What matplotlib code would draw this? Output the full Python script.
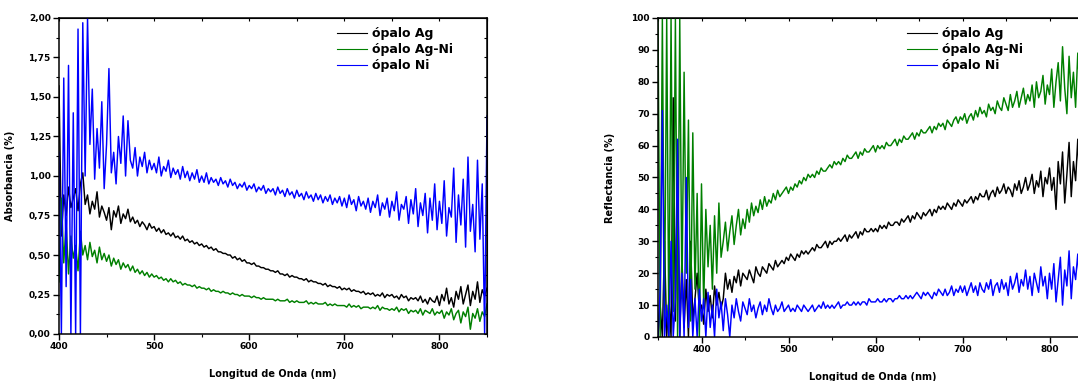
import numpy as np
import matplotlib
matplotlib.use("Agg")
import matplotlib.pyplot as plt
from matplotlib.ticker import MultipleLocator, FuncFormatter

# --- absorbance panel (400-850 nm, 2.5 nm step, one row = 25 nm) ---
wl_abs = np.arange(400, 850.1, 2.5)
abs_ag = [1.57, 0.62, 0.88, 0.75, 0.93, 0.80, 0.86, 0.92, 0.78, 0.95,
          1.02, 0.82, 0.88, 0.76, 0.84, 0.79, 0.90, 0.74, 0.81, 0.77,
          0.72, 0.80, 0.66, 0.78, 0.74, 0.81, 0.70, 0.76, 0.73, 0.79,
          0.71, 0.74, 0.70, 0.72, 0.68, 0.71, 0.69, 0.66, 0.70, 0.67,
          0.68, 0.65, 0.67, 0.64, 0.66, 0.63, 0.64, 0.62, 0.64, 0.61,
          0.62, 0.60, 0.62, 0.59, 0.60, 0.58, 0.59, 0.57, 0.58, 0.56,
          0.57, 0.55, 0.56, 0.54, 0.55, 0.53, 0.54, 0.52, 0.52, 0.51,
          0.51, 0.50, 0.50, 0.48, 0.49, 0.47, 0.48, 0.46, 0.47, 0.45,
          0.45, 0.44, 0.45, 0.43, 0.43, 0.42, 0.42, 0.41, 0.41, 0.40,
          0.40, 0.39, 0.40, 0.38, 0.38, 0.37, 0.38, 0.36, 0.37, 0.36,
          0.36, 0.35, 0.35, 0.34, 0.35, 0.33, 0.34, 0.33, 0.33, 0.32,
          0.32, 0.31, 0.32, 0.30, 0.31, 0.30, 0.30, 0.29, 0.30, 0.28,
          0.29, 0.28, 0.29, 0.27, 0.28, 0.27, 0.27, 0.26, 0.27, 0.25,
          0.26, 0.25, 0.26, 0.24, 0.25, 0.24, 0.26, 0.23, 0.25, 0.24,
          0.25, 0.23, 0.24, 0.22, 0.25, 0.23, 0.24, 0.21, 0.23, 0.22,
          0.23, 0.21, 0.24, 0.20, 0.22, 0.19, 0.23, 0.21, 0.20, 0.24,
          0.18, 0.25, 0.21, 0.29, 0.19, 0.23, 0.17, 0.27, 0.22, 0.30,
          0.19, 0.25, 0.31, 0.18, 0.27, 0.22, 0.33, 0.20, 0.28, 0.24,
          0.29]
abs_agni = [0.33, 0.86, 0.45, 0.70, 0.38, 0.62, 0.48, 0.56, 0.40, 0.65,
            0.50, 0.56, 0.47, 0.58, 0.49, 0.53, 0.45, 0.55, 0.47, 0.51,
            0.46, 0.50, 0.43, 0.48, 0.44, 0.47, 0.41, 0.45, 0.42, 0.44,
            0.40, 0.43, 0.39, 0.41, 0.38, 0.40, 0.37, 0.39, 0.36, 0.38,
            0.36, 0.37, 0.35, 0.36, 0.34, 0.35, 0.33, 0.35, 0.33, 0.34,
            0.32, 0.33, 0.31, 0.32, 0.31, 0.31, 0.30, 0.31, 0.29, 0.30,
            0.29, 0.29, 0.28, 0.29, 0.27, 0.28, 0.27, 0.27, 0.26, 0.27,
            0.26, 0.26, 0.25, 0.26, 0.25, 0.25, 0.24, 0.25, 0.24, 0.24,
            0.24, 0.23, 0.24, 0.23, 0.23, 0.22, 0.23, 0.22, 0.22, 0.22,
            0.22, 0.21, 0.22, 0.21, 0.21, 0.21, 0.22, 0.20, 0.21, 0.20,
            0.21, 0.20, 0.20, 0.20, 0.21, 0.19, 0.20, 0.19, 0.20, 0.19,
            0.19, 0.19, 0.20, 0.18, 0.19, 0.18, 0.19, 0.18, 0.18, 0.18,
            0.18, 0.17, 0.19, 0.17, 0.18, 0.17, 0.18, 0.16, 0.17, 0.17,
            0.17, 0.16, 0.17, 0.16, 0.18, 0.15, 0.17, 0.16, 0.16, 0.15,
            0.16, 0.15, 0.17, 0.14, 0.16, 0.15, 0.16, 0.13, 0.15, 0.14,
            0.15, 0.13, 0.16, 0.12, 0.15, 0.14, 0.13, 0.16, 0.12, 0.14,
            0.13, 0.15, 0.10, 0.14, 0.12, 0.16, 0.09, 0.13, 0.15, 0.07,
            0.14, 0.11, 0.17, 0.03, 0.13, 0.10, 0.16, 0.08, 0.14, 0.11,
            0.19]
abs_ni = [1.15, 0.00, 1.62, 0.30, 1.70, 0.00, 1.40, 0.00, 1.93, 0.00,
          1.97, 1.00, 2.00, 1.20, 1.55, 0.98, 1.30, 1.05, 1.47, 0.92,
          1.20, 1.68, 1.02, 1.15, 0.95, 1.25, 1.08, 1.38, 1.00, 1.35,
          1.10, 1.05, 1.18, 1.00, 1.12, 1.06, 1.15, 1.02, 1.10, 1.04,
          1.08, 1.02, 1.12, 1.00, 1.06, 1.03, 1.10, 0.99, 1.05, 1.01,
          1.04, 0.98, 1.06, 0.99, 1.03, 0.97, 1.02, 0.98, 1.04, 0.96,
          1.00, 0.96, 1.02, 0.95, 0.99, 0.96, 0.98, 0.94, 0.99, 0.95,
          0.97, 0.93, 0.98, 0.94, 0.96, 0.92, 0.95, 0.93, 0.96, 0.91,
          0.94, 0.92, 0.95, 0.90, 0.93, 0.91, 0.94, 0.89, 0.92, 0.90,
          0.92, 0.88, 0.93, 0.89, 0.91, 0.87, 0.92, 0.88, 0.90, 0.86,
          0.91, 0.87, 0.89, 0.85, 0.90, 0.86, 0.88, 0.84, 0.89, 0.85,
          0.88, 0.83, 0.87, 0.84, 0.88, 0.82, 0.86, 0.83, 0.87, 0.81,
          0.86, 0.80, 0.88, 0.82, 0.85, 0.78, 0.87, 0.81, 0.84, 0.79,
          0.86, 0.77, 0.84, 0.80, 0.88, 0.75, 0.83, 0.79, 0.86, 0.74,
          0.84, 0.78, 0.90, 0.72, 0.82, 0.79, 0.87, 0.70, 0.85, 0.76,
          0.92, 0.68, 0.83, 0.75, 0.89, 0.64, 0.86, 0.72, 0.95, 0.66,
          0.84, 0.70, 0.97, 0.62, 0.80, 0.74, 1.05, 0.58, 0.88, 0.69,
          0.98, 0.55, 1.12, 0.65, 0.82, 0.52, 1.10, 0.60, 0.95, 0.00,
          1.38]

# --- reflectance panel (350-850 nm, 2.5 nm step, one row = 25 nm) ---
wl_ref = np.arange(350, 850.1, 2.5)
ref_ag = [0, 10, 0, 30, 0, 12, 0, 75, 5, 54,
          0, 25, 3, 18, 0, 30, 5, 12, 20, 8,
          10, 4, 15, 8, 13, 6, 16, 10, 14, 9,
          12, 20, 15, 18, 14, 19, 17, 21, 16, 20,
          19, 18, 21, 19, 17, 22, 20, 19, 22, 21,
          20, 23, 22, 21, 24, 22, 23, 24, 23, 25,
          24, 26, 25, 24, 26, 25, 27, 26, 27, 26,
          27, 28, 27, 29, 28, 28, 29, 30, 28, 30,
          29, 30, 30, 31, 30, 31, 32, 30, 32, 31,
          32, 33, 31, 33, 32, 34, 33, 33, 34, 33,
          34, 33, 35, 34, 35, 34, 36, 35, 35, 36,
          36, 35, 37, 36, 37, 38, 36, 38, 37, 39,
          38, 37, 39, 38, 39, 40, 38, 40, 39, 41,
          40, 41, 40, 42, 41, 40, 42, 41, 43, 42,
          41, 43, 42, 43, 44, 42, 44, 43, 45, 44,
          44, 46, 43, 45, 46, 44, 47, 45, 46, 48,
          45, 47, 46, 44, 48, 46, 49, 45, 47, 50,
          46, 48, 51, 45, 49, 47, 52, 44, 50, 48,
          53, 46, 50, 40, 55, 48, 58, 42, 51, 61,
          44, 55, 49, 62, 46, 53, 57, 45, 52, 59,
          50]
ref_agni = [100, 0, 100, 5, 100, 0, 100, 8, 100, 0,
            100, 12, 83, 20, 68, 5, 64, 15, 45, 0,
            48, 10, 40, 22, 35, 15, 38, 20, 42, 25,
            30, 36, 27, 33, 38, 29, 35, 40, 32, 37,
            34, 40, 36, 42, 38, 41, 39, 43, 40, 44,
            41, 43, 42, 45, 43, 46, 44, 45, 46, 47,
            45, 47, 46, 48, 47, 49, 48, 50, 49, 51,
            50, 51, 50, 52, 51, 53, 52, 52, 53, 54,
            53, 55, 54, 55, 54, 56, 55, 57, 56, 56,
            57, 58, 56, 58, 57, 59, 58, 58, 59, 60,
            58, 60, 59, 60, 59, 61, 60, 60, 61, 62,
            60, 62, 61, 63, 62, 62, 63, 64, 62, 64,
            63, 65, 64, 64, 65, 66, 64, 66, 65, 67,
            66, 67, 65, 68, 67, 66, 68, 69, 67, 69,
            68, 70, 67, 69, 70, 68, 71, 69, 72, 70,
            71, 69, 73, 71, 72, 70, 74, 72, 71, 75,
            73, 71, 76, 72, 74, 77, 72, 75, 78, 73,
            76, 74, 79, 72, 80, 75, 77, 82, 73, 79,
            76, 84, 72, 80, 86, 74, 91, 78, 70, 88,
            75, 83, 72, 89, 77, 81, 74, 86, 79, 84,
            80]
ref_ni = [0, 15, 71, 0, 10, 0, 30, 0, 12, 62,
          0, 20, 0, 50, 3, 18, 0, 12, 0, 15,
          5, 12, 0, 14, 3, 10, 0, 15, 6, 11,
          2, 12, 7, 0, 10, 6, 12, 8, 5, 11,
          9, 7, 12, 8, 10, 6, 9, 11, 7, 10,
          8, 12, 9, 7, 10, 8, 9, 11, 8, 9,
          10, 8, 9, 8, 10, 9, 8, 10, 9, 8,
          9, 10, 8, 9, 10, 9, 11, 9, 10, 9,
          10, 9, 10, 11, 9, 10, 10, 11, 10, 10,
          11, 10, 11, 10, 11, 11, 10, 12, 11, 11,
          11, 12, 11, 11, 12, 11, 12, 12, 11, 12,
          12, 13, 12, 12, 13, 12, 13, 12, 13, 14,
          13, 12, 14, 13, 14, 13, 12, 14, 13, 15,
          14, 13, 15, 13, 14, 16, 13, 15, 14, 16,
          14, 16, 13, 15, 17, 14, 16, 13, 17, 15,
          14, 17, 15, 18, 13, 16, 17, 14, 18, 15,
          17, 13, 19, 15, 17, 20, 14, 18, 16, 21,
          15, 19, 13, 20, 17, 14, 22, 16, 19, 12,
          20, 15, 23, 11, 18, 25, 10, 21, 16, 27,
          12, 22, 18, 26, 14, 20, 24, 15, 21, 18,
          19]

labels = ["ópalo Ag", "ópalo Ag-Ni", "ópalo Ni"]
colors = ["#000000", "#008000", "#0000ff"]

W, H = 1078, 381
fig = plt.figure(figsize=(W / 100, H / 100), dpi=100)


def style_axes(ax, major_x, minor_x, major_y, minor_y):
    ax.xaxis.set_major_locator(MultipleLocator(major_x))
    ax.xaxis.set_minor_locator(MultipleLocator(minor_x))
    ax.yaxis.set_major_locator(MultipleLocator(major_y))
    ax.yaxis.set_minor_locator(MultipleLocator(minor_y))
    ax.tick_params(which="major", direction="out", length=4, width=1,
                   labelsize=6.5, pad=2)
    ax.tick_params(which="minor", direction="out", length=2.5, width=0.8)
    for lab in ax.get_xticklabels() + ax.get_yticklabels():
        lab.set_fontweight("bold")
    for sp in ax.spines.values():
        sp.set_linewidth(1.1)
    # mirrored inward ticks on top and right
    top = ax.secondary_xaxis("top")
    top.xaxis.set_major_locator(MultipleLocator(major_x))
    top.xaxis.set_minor_locator(MultipleLocator(minor_x))
    top.tick_params(which="both", direction="in", length=2.5, width=0.8,
                    labeltop=False)
    right = ax.secondary_yaxis("right")
    right.yaxis.set_major_locator(MultipleLocator(major_y))
    right.yaxis.set_minor_locator(MultipleLocator(minor_y))
    right.tick_params(which="both", direction="in", length=2.5, width=0.8,
                      labelright=False)


def add_legend(ax, x_px, y_px):
    leg = ax.legend(labels, loc="upper left", frameon=False,
                    bbox_to_anchor=(x_px / W, 1 - y_px / H),
                    bbox_transform=fig.transFigure,
                    prop={"weight": "bold", "size": 9},
                    handlelength=2.4, handletextpad=0.4, labelspacing=0.25,
                    borderpad=0, borderaxespad=0)
    for ln in leg.get_lines():
        ln.set_linewidth(0.8)


# left panel: absorbance
ax1 = fig.add_axes([59 / W, 1 - 334 / H, 428 / W, 316 / H])
for y, c in zip([abs_ag, abs_agni, abs_ni], colors):
    ax1.plot(wl_abs, y, color=c, lw=1.05)
ax1.set_xlim(400, 850)
ax1.set_ylim(0, 2)
style_axes(ax1, 100, 50, 0.25, 0.125)
ax1.yaxis.set_major_formatter(FuncFormatter(lambda v, p: f"{v:.2f}".replace(".", ",")))
ax1.set_xlabel("Longitud de Onda (nm)", fontsize=7, fontweight="bold")
ax1.set_ylabel("Absorbancia (%)", fontsize=7, fontweight="bold")
ax1.xaxis.set_label_coords(0.5, -0.11)
ax1.yaxis.set_label_coords(-0.103, 0.5)
add_legend(ax1, 337, 27)

# right panel: reflectance (cut at the figure edge)
ax2 = fig.add_axes([658 / W, 1 - 337 / H, 435 / W, 319 / H])
for y, c in zip([ref_ag, ref_agni, ref_ni], colors):
    ax2.plot(wl_ref, y, color=c, lw=1.05)
ax2.set_xlim(350, 850)
ax2.set_ylim(0, 100)
style_axes(ax2, 100, 50, 10, 5)
ax2.set_xlabel("Longitud de Onda (nm)", fontsize=7, fontweight="bold")
ax2.set_ylabel("Reflectancia (%)", fontsize=7, fontweight="bold")
ax2.xaxis.set_label_coords(0.494, -0.11)
ax2.yaxis.set_label_coords(-0.099, 0.5)
add_legend(ax2, 907, 27)

fig.savefig("out.png", dpi=100)
